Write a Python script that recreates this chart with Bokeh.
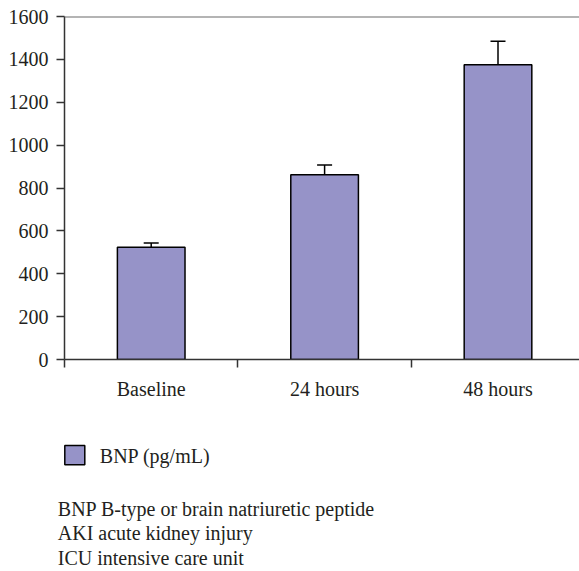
from bokeh.plotting import figure
from bokeh.models import (Range1d, FixedTicker, Span, Whisker, TeeHead,
                          ColumnDataSource)
from bokeh.layouts import column
from bokeh.core.properties import value
from bokeh.embed import file_html
from bokeh.resources import INLINE

# ---- data ----
categories = ["Baseline", "24 hours", "48 hours"]
bnp_mean = [524, 862, 1375]
bnp_err = [20, 45, 110]
y_ticks = [0, 200, 400, 600, 800, 1000, 1200, 1400, 1600]
legend_label = "BNP (pg/mL)"
notes = ["BNP B-type or brain natriuretic peptide",
         "AKI acute kidney injury",
         "ICU intensive care unit"]

FONT = "Liberation Serif"
TXT = "#231f20"
BAR = "#9693C8"
AX = "#333333"

xpos = [i + 0.5 for i in range(len(categories))]
src = ColumnDataSource(dict(
    x=xpos, top=bnp_mean,
    upper=[m + e for m, e in zip(bnp_mean, bnp_err)],
))

p = figure(width=579, height=408, output_backend="svg", toolbar_location=None,
           x_range=Range1d(0, 2.97), y_range=Range1d(0, 1600),
           min_border_left=64, min_border_right=0, min_border_top=16,
           min_border_bottom=49)
p.frame_align = False
p.outline_line_color = None
p.xgrid.visible = False
p.ygrid.visible = False
p.background_fill_color = "white"
p.border_fill_color = "white"

p.vbar(x="x", top="top", width=0.39, bottom=0, source=src,
       fill_color=BAR, line_color="black", line_width=1.5)

wh = Whisker(source=src, base="x", upper="upper", lower="top",
             line_color="black", line_width=1.5,
             upper_head=TeeHead(size=15, line_color="black", line_width=1.5),
             lower_head=None)
p.add_layout(wh)

p.add_layout(Span(location=1600, dimension="width", line_color="#6a6a6a",
                  line_width=2))

# y axis
ya = p.yaxis[0]
ya.ticker = FixedTicker(ticks=y_ticks)
ya.axis_line_color = AX
ya.axis_line_width = 1.5
ya.major_tick_line_color = AX
ya.major_tick_line_width = 1.5
ya.major_tick_in = 0
ya.major_tick_out = 8
ya.minor_tick_line_color = None
ya.major_label_standoff = 8
ya.major_label_text_font = FONT
ya.major_label_text_font_size = "20px"
ya.major_label_text_color = TXT

# x axis
xa = p.xaxis[0]
xa.ticker = FixedTicker(ticks=xpos, minor_ticks=[0, 1, 2])
xa.major_label_overrides = {x: c for x, c in zip(xpos, categories)}
xa.axis_line_color = AX
xa.axis_line_width = 1.5
xa.major_tick_line_color = None
xa.minor_tick_line_color = AX
xa.minor_tick_line_width = 1.5
xa.minor_tick_in = 0
xa.minor_tick_out = 8
xa.major_label_standoff = 10
xa.major_label_text_font = FONT
xa.major_label_text_font_size = "20px"
xa.major_label_text_color = TXT

# ---- lower panel: legend and notes (pixel-like coordinates) ----
q = figure(width=579, height=163, output_backend="svg", toolbar_location=None,
           x_range=Range1d(0, 579), y_range=Range1d(0, 163),
           x_axis_location=None, y_axis_location=None,
           min_border=0, min_border_left=0, min_border_right=0,
           min_border_top=0, min_border_bottom=0)
q.frame_align = False
q.grid.visible = False
q.outline_line_color = None
q.background_fill_color = "white"
q.border_fill_color = "white"

q.rect(x=[74.3], y=[116.3], width=20, height=19.3, fill_color=BAR,
       line_color="black", line_width=1.5)
q.text(x=[99.3], y=[116.0], text=[legend_label], text_font=value(FONT),
       text_font_size="20px", text_color=TXT, text_baseline="alphabetic",
       text_align="left")
q.text(x=[57.3, 57.3, 57.3], y=[63.0, 38.5, 13.5], text=notes,
       text_font=value(FONT), text_font_size="20px", text_color=TXT,
       text_baseline="alphabetic", text_align="left")

layout = column(p, q, spacing=0)
open("out.html", "w").write(file_html(layout, INLINE))
